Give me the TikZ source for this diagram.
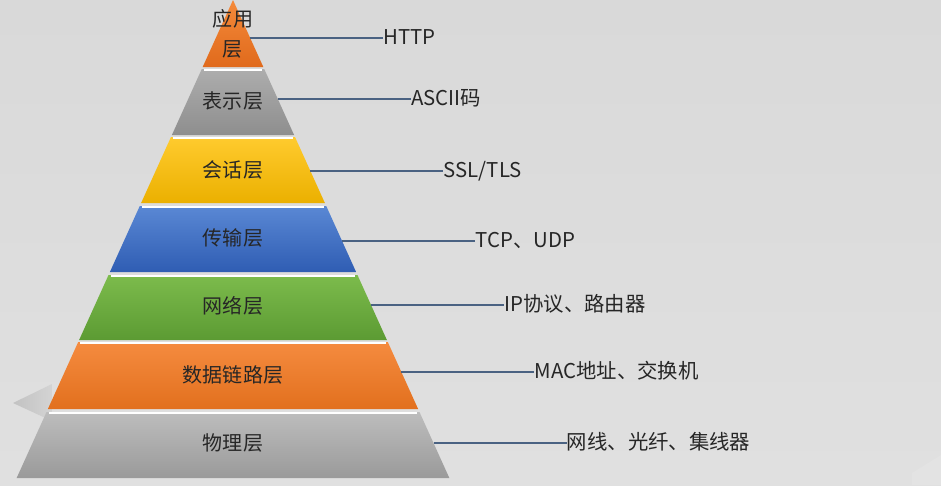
\documentclass[tikz,border=0pt]{standalone}
\usepackage{fontspec}
\setmainfont{Noto Sans CJK SC}
\usetikzlibrary{positioning}

\definecolor{bgGray}{HTML}{D9D9D9}
\definecolor{bgLight}{HTML}{E0E0E0}
\definecolor{lineBlue}{HTML}{4A6282}
\definecolor{appTop}{HTML}{F58A3A}   \definecolor{appBot}{HTML}{E06A1C}
\definecolor{presTop}{HTML}{ADADAD}  \definecolor{presBot}{HTML}{8E8E8E}
\definecolor{sessTop}{HTML}{FFCB2E}  \definecolor{sessBot}{HTML}{EBB000}
\definecolor{tranTop}{HTML}{5A88D4}  \definecolor{tranBot}{HTML}{2F5DB3}
\definecolor{netTop}{HTML}{7CBB4C}   \definecolor{netBot}{HTML}{5C9B33}
\definecolor{dataTop}{HTML}{F58B3F}  \definecolor{dataBot}{HTML}{E2701E}
\definecolor{phyTop}{HTML}{BDBDBD}   \definecolor{phyBot}{HTML}{9A9A9A}

\begin{document}
\begin{tikzpicture}
[x=0.02cm,y=-0.02cm,
  layerText/.style={font=\fontsize{11.4}{17}\selectfont,text=black!85,inner sep=0pt,align=center},%
  sideText/.style={font=\fontsize{11.6}{17}\selectfont,text=black!85,inner sep=0pt,
    text height=0.88em,text depth=0.12em},%
  lineDecorate/.style={-,line width=1.1pt,draw=lineBlue},%
  gapDecorate/.style={-,line width=1.2pt,draw=white}]
%% background
\shade[top color=bgGray,bottom color=bgLight] (0,0) rectangle (941,485);
\useasboundingbox (0,0) rectangle (941,485);
\shade[left color=black!24,right color=black!17] (13,403) -- (52,384) -- (52,421) -- cycle;
\fill[black!11] (912,485) -- (912,473) -- (941,455) -- (941,485) -- cycle;
%% layers of the pyramid
\foreach \n/\yt/\yb/\ctop/\cbot in {
  1/0/67/appTop/appBot, 2/69/135/presTop/presBot, 3/137/203/sessTop/sessBot,
  4/206/272/tranTop/tranBot, 5/275/340/netTop/netBot, 6/342/409/dataTop/dataBot,
  7/412/478/phyTop/phyBot}
{
  \pgfmathsetmacro{\wt}{0.4526*\yt}
  \pgfmathsetmacro{\wb}{0.4526*\yb}
  \shade[top color=\ctop,bottom color=\cbot]
    (233-\wt,\yt) -- (233+\wt,\yt) -- (233+\wb,\yb) -- (233-\wb,\yb) -- cycle;
  \ifnum\n>1
    \draw[gapDecorate] (233-\wt+2,\yt+1) -- (233+\wt-2,\yt+1);
  \fi
}
%% layer names
\node (l1) at (233,34) [layerText] {应用\\层};
\foreach \n/\y/\name in {2/101/表示层, 3/170/会话层, 4/238/传输层,
  5/306/网络层, 6/375/数据链路层, 7/443/物理层}
{
  \node (l\n) at (233,\y) [layerText] {\name};
}
%% protocols and devices
\foreach \n/\y/\name in {1/38/HTTP, 2/99/ASCII码, 3/171/{SSL/TLS},
  4/241/TCP、UDP, 5/305/IP协议、路由器, 6/372/MAC地址、交换机,
  7/443/网线、光纤、集线器}
{
  \coordinate (e\n) at (233+0.4526*\y,\y);
  \node (r\n) [sideText,right=133 of e\n] {\name};
  \draw[lineDecorate] (e\n) -- (r\n.west);
}
\end{tikzpicture}
\end{document}
